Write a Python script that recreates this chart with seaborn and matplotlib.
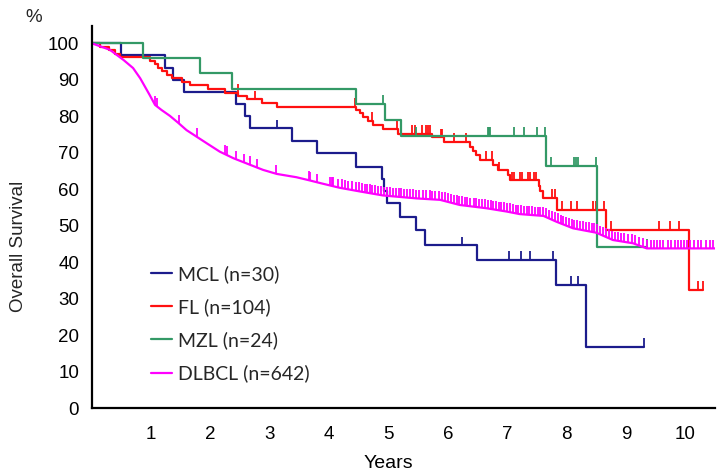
import numpy as np
import pandas as pd
import matplotlib
matplotlib.use('Agg')
import matplotlib.pyplot as plt
import seaborn as sns
from matplotlib.lines import Line2D

# 各組 Kaplan-Meier 曲線 (年, %)
mcl_t = [0, 0.49, 1.24, 1.37, 1.56, 2.44, 2.58, 2.67, 3.38, 3.80, 4.46, 4.89, 4.93,
         4.97, 5.19, 5.47, 5.61, 6.49, 7.82, 8.32, 9.30]
mcl_s = [100, 96.7, 93.3, 90.0, 86.7, 83.3, 80.0, 76.7, 73.3, 69.8, 66.2, 62.8, 59.5,
         56.2, 52.5, 48.8, 44.6, 40.6, 33.9, 16.9, 16.9]
mcl_c = [3.12, 6.24, 7.03, 7.23, 7.38, 7.77, 8.07, 8.20, 9.30]

fl_t = [0, 0.14, 0.30, 0.40, 0.48, 0.98, 1.07, 1.12, 1.18, 1.27, 1.35, 1.52, 1.66,
        1.97, 2.25, 2.47, 2.61, 2.87, 3.12, 4.46, 4.52, 4.58, 4.66, 4.74, 4.91, 5.16,
        5.73, 5.93, 6.37, 6.43, 6.48, 6.54, 6.76, 6.85, 7.02, 7.05, 7.53, 7.56, 7.60,
        7.84, 8.66, 10.06, 10.29]
fl_s = [100, 99.0, 98.1, 97.1, 96.2, 95.2, 94.2, 93.2, 92.3, 91.3, 90.4, 89.4, 88.5,
        87.5, 86.5, 85.6, 84.6, 83.6, 82.5, 81.7, 80.8, 79.8, 78.8, 77.5, 76.5, 75.1,
        74.2, 72.9, 71.7, 70.6, 69.4, 68.0, 66.6, 65.2, 63.9, 62.4, 61.0, 59.5, 57.6,
        54.4, 48.8, 32.4, 32.4]
fl_c = [2.46, 2.76, 4.44, 4.73, 5.14, 5.39, 5.45, 5.56, 5.64, 5.67, 5.70, 5.89, 5.91,
        6.10, 6.30, 6.65, 6.74, 6.86, 7.08, 7.11, 7.22, 7.25, 7.35, 7.38, 7.45, 7.48,
        7.75, 7.80, 7.93, 8.07, 8.18, 8.44, 8.50, 8.63, 8.75, 9.56, 9.74, 9.90, 10.22,
        10.29]

mzl_t = [0, 0.87, 1.83, 2.36, 4.45, 4.95, 5.21, 7.66, 8.52, 9.35]
mzl_s = [100, 95.9, 91.8, 87.5, 83.4, 79.0, 74.6, 66.4, 44.1, 44.1]
mzl_c = [4.91, 5.47, 6.67, 6.69, 6.71, 7.11, 7.28, 7.50, 7.64, 7.73, 8.13, 8.16, 8.19,
         8.49, 9.35]

dlbcl_t = [0, 0.31, 0.54, 0.70, 0.82, 0.90, 0.98, 1.07, 1.18, 1.32, 1.46, 1.60, 1.77,
           1.94, 2.16, 2.39, 2.67, 2.89, 3.12, 3.45, 3.68, 3.85, 4.18, 4.52, 4.91, 5.47,
           5.87, 6.20, 6.65, 6.99, 7.21, 7.61, 7.83, 8.11, 8.50, 8.78, 9.12, 9.35, 10.50]
dlbcl_s = [100, 98.2, 95.4, 93.2, 90.4, 88.1, 85.8, 83.1, 81.7, 80.1, 78.2, 76.2, 74.4,
           72.6, 70.3, 68.5, 66.7, 65.3, 64.2, 63.3, 62.4, 61.7, 60.4, 59.4, 58.3, 57.5,
           57.1, 55.7, 54.8, 53.9, 53.2, 52.7, 51.1, 49.3, 48.1, 46.1, 45.2, 43.8, 43.8]
dlbcl_c = [1.07, 1.10, 1.48, 1.77, 2.25, 2.28, 2.44, 2.57, 2.67, 2.78, 3.10, 3.66, 3.68,
           3.80, 4.02, 4.05, 4.07, 4.15, 4.21, 4.27, 4.32, 4.38,
           4.46, 4.50, 4.55, 4.60, 4.64, 4.69, 4.73, 4.78, 4.83, 4.87, 4.92, 4.97, 5.02,
           5.08, 5.13, 5.17, 5.22, 5.26, 5.31, 5.36, 5.41, 5.47, 5.52, 5.58, 5.63, 5.70,
           5.74, 5.79, 5.85, 5.90, 5.96, 6.01, 6.05, 6.10, 6.15, 6.19, 6.24, 6.29, 6.33,
           6.38, 6.44, 6.48, 6.53, 6.58, 6.62, 6.67, 6.72, 6.76, 6.81, 6.86, 6.90, 6.95,
           7.00, 7.04, 7.09, 7.14, 7.19, 7.23, 7.28, 7.33, 7.37, 7.42, 7.47, 7.52, 7.56,
           7.61, 7.66, 7.71, 7.76, 7.80, 7.85, 7.90, 7.94, 7.99, 8.04, 8.09, 8.13, 8.18,
           8.23, 8.27, 8.32, 8.37, 8.42, 8.46, 8.51, 8.56, 8.61, 8.66, 8.71, 8.76, 8.81,
           8.86, 8.92, 8.97, 9.03, 9.10, 9.16, 9.22, 9.28, 9.36, 9.42, 9.47, 9.52, 9.57,
           9.63, 9.70, 9.76, 9.82, 9.88, 9.92, 9.97, 10.03, 10.08, 10.14, 10.21, 10.27,
           10.34, 10.41, 10.46]

groups = ['MCL (n=30)', 'FL (n=104)', 'MZL (n=24)', 'DLBCL (n=642)']
colors = ['#1c1c8c', '#ff1010', '#339966', '#ff00ff']

curves = [
    (mcl_t, mcl_s, mcl_c, 'steps-post'),
    (fl_t, fl_s, fl_c, 'steps-post'),
    (mzl_t, mzl_s, mzl_c, 'steps-post'),
    (dlbcl_t, dlbcl_s, dlbcl_c, 'default'),
]

sns.set_style('white')
plt.rcParams['font.family'] = ['Liberation Sans', 'DejaVu Sans']

fig = plt.figure(figsize=(7.28, 4.76), dpi=100)
ax = fig.add_axes([0.1257, 0.1422, 0.8565, 0.8038])

for (t, s, c, ds), name, col in zip(curves, groups, colors):
    df = pd.DataFrame({'time': t, 'surv': s})
    sns.lineplot(data=df, x='time', y='surv', color=col, lw=1.6, drawstyle=ds,
                 estimator=None, sort=False, ax=ax, legend=False)
    # 設限標記 (censor ticks)
    t_arr = np.array(t)
    s_arr = np.array(s)
    c_arr = np.array(c)
    if ds == 'steps-post':
        idx = np.searchsorted(t_arr, c_arr, side='right') - 1
        c_y = s_arr[idx]
    else:
        c_y = np.interp(c_arr, t_arr, s_arr)
    ax.vlines(c_arr, c_y, c_y + 2.4, colors=col, lw=1.3)

ax.set_xlim(0, 10.5)
ax.set_ylim(0, 104.8)
ax.set_xticks(range(1, 11))
ax.set_yticks(range(0, 101, 10))
ax.tick_params(axis='x', direction='in', length=3, width=1, pad=13, labelsize=13.5, colors='black')
ax.tick_params(axis='y', direction='in', length=3, width=1, pad=9, labelsize=13.5, colors='black')
for side in ['top', 'right']:
    ax.spines[side].set_visible(False)
for side in ['left', 'bottom']:
    ax.spines[side].set_color('black')
    ax.spines[side].set_linewidth(1.6)

ax.set_xlabel('Years', fontsize=14, color='black')
ax.xaxis.set_label_coords(5 / 10.5, -0.143)
ax.xaxis.label.set_va('center')
ax.set_ylabel('')
fig.text(19 / 728, 1 - 246 / 476, 'Overall Survival', rotation=90, fontsize=13.5,
         ha='center', va='center')
fig.text(34 / 728, 1 - 17 / 476, '%', fontsize=13.5, ha='center', va='center')

handles = [Line2D([0], [0], color=c, lw=1.6) for c in colors]
ax.legend(handles, groups, loc='upper left', bbox_to_anchor=(0.096, 0.374),
          frameon=False, prop={'family': 'Lato', 'size': 14}, handlelength=1.05,
          handletextpad=0.3, labelspacing=0.78, borderaxespad=0, borderpad=0)

fig.savefig('out.png', dpi=100)
